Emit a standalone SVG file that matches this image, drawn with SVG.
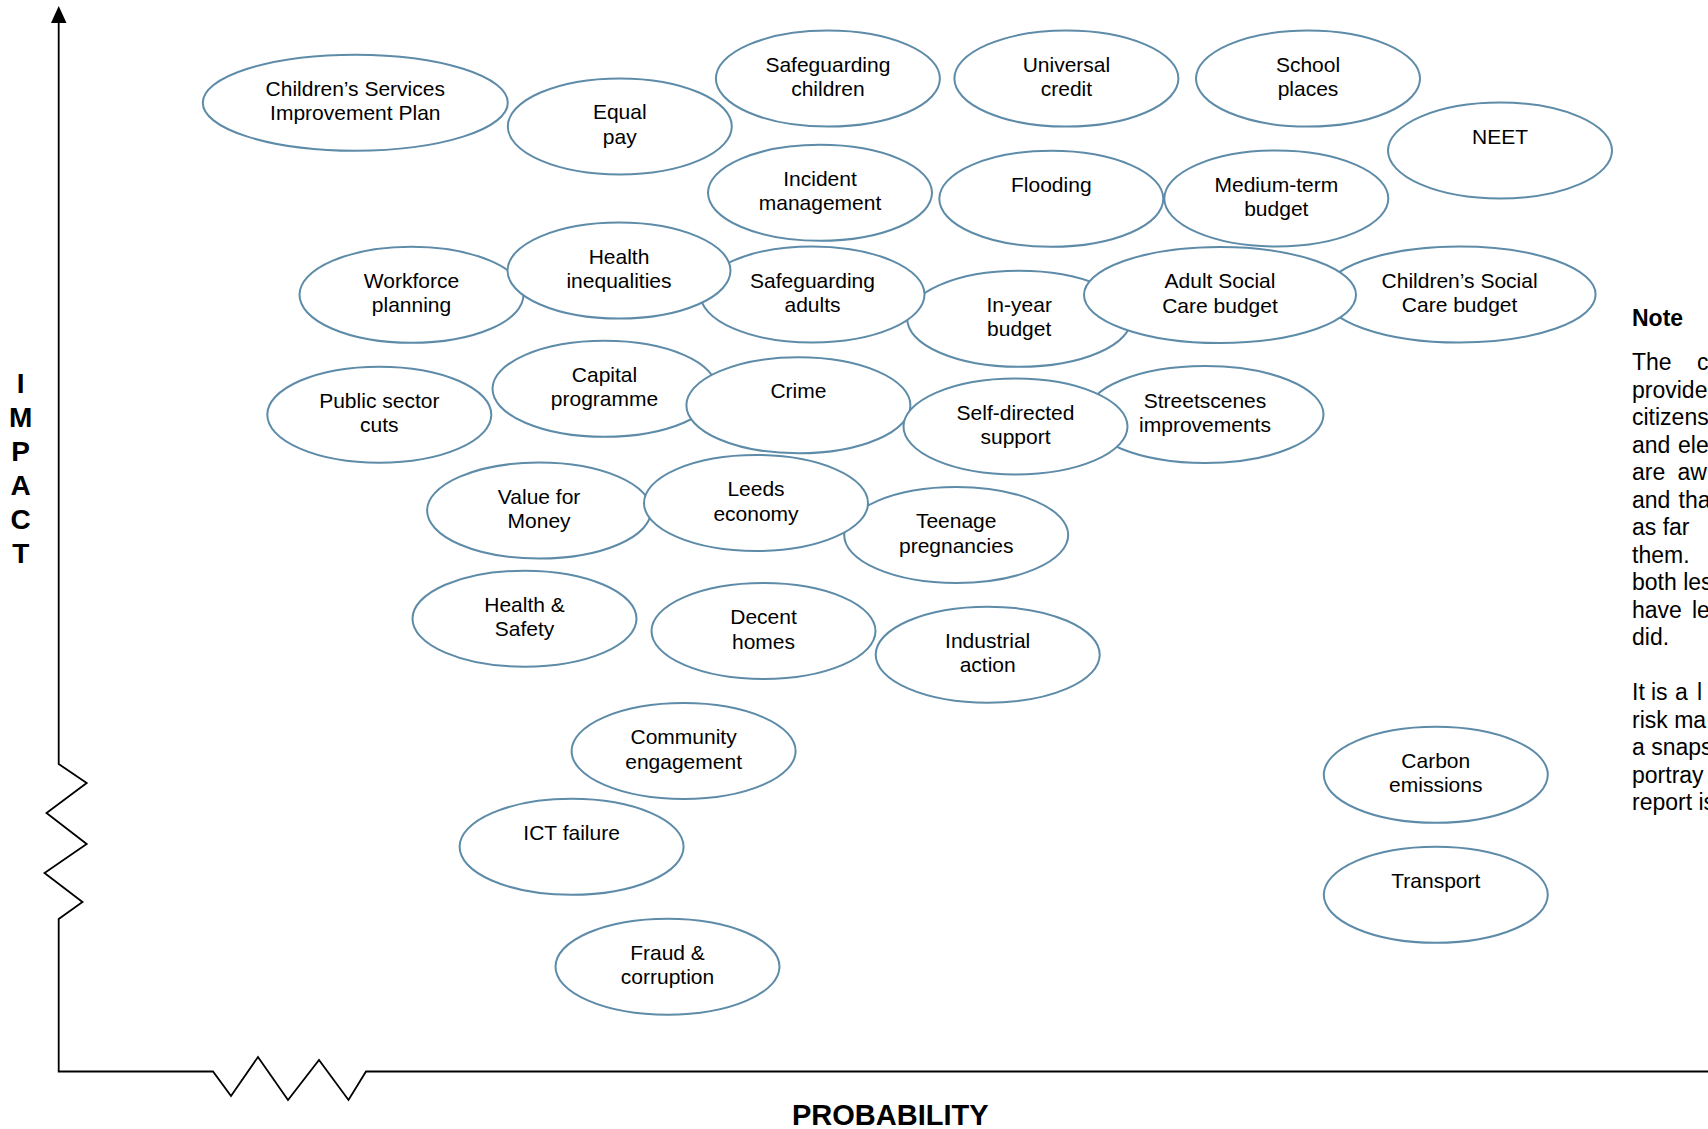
<svg xmlns="http://www.w3.org/2000/svg" width="1708" height="1129" viewBox="0 0 1708 1129">
<style>
.n ellipse{fill:#fff;stroke:#5d8ba8;stroke-width:2}
.n text,.t{font-family:"Liberation Sans",Arial,sans-serif;font-size:21px;fill:#000;text-anchor:middle}
.ax{fill:none;stroke:#000;stroke-width:1.8}
.lab{font-family:"Liberation Sans",Arial,sans-serif;font-weight:bold;fill:#000}
.note{font-family:"Liberation Sans",Arial,sans-serif;font-size:23px;fill:#000}
</style>
<rect width="1708" height="1129" fill="#fff"/>
<g id="axes">
<polyline class="ax" points="58.7,22 58.7,764 86.7,783 46.5,813 86.7,844 44.5,873 82.5,902 58.7,919 58.7,1071.5 213,1071.5 231,1096 258,1057 288,1100 319,1060 348.5,1100 366,1071.5 1708,1071.5"/>
<polygon points="58.7,6 51,23 66.5,23" fill="#000"/>
</g>
<g id="axis-labels">
<text class="lab" font-size="28" text-anchor="middle" x="20.7" y="393">I</text>
<text class="lab" font-size="28" text-anchor="middle" x="20.7" y="427">M</text>
<text class="lab" font-size="28" text-anchor="middle" x="20.7" y="461">P</text>
<text class="lab" font-size="28" text-anchor="middle" x="20.7" y="495">A</text>
<text class="lab" font-size="28" text-anchor="middle" x="20.7" y="529">C</text>
<text class="lab" font-size="28" text-anchor="middle" x="20.7" y="563">T</text>
<text class="lab" font-size="29" x="792" y="1125">PROBABILITY</text>
</g>
<g id="nodes" class="n">
<g id="csip"><ellipse cx="355.3" cy="102.7" rx="152.5" ry="48"/><text x="355.3" y="95.7">Children’s Services</text><text x="355.3" y="120.2">Improvement Plan</text></g>
<g id="equal-pay"><ellipse cx="619.8" cy="126.4" rx="112" ry="48"/><text x="619.8" y="119.4">Equal</text><text x="619.8" y="143.9">pay</text></g>
<g id="safeguarding-children"><ellipse cx="827.9" cy="78.6" rx="112" ry="48"/><text x="827.9" y="71.6">Safeguarding</text><text x="827.9" y="96.1">children</text></g>
<g id="universal-credit"><ellipse cx="1066.4" cy="78.6" rx="112" ry="48"/><text x="1066.4" y="71.6">Universal</text><text x="1066.4" y="96.1">credit</text></g>
<g id="school-places"><ellipse cx="1308" cy="78.6" rx="112" ry="48"/><text x="1308" y="71.6">School</text><text x="1308" y="96.1">places</text></g>
<g id="neet"><ellipse cx="1500" cy="150.5" rx="112" ry="48"/><text x="1500" y="143.5">NEET</text></g>
<g id="incident-management"><ellipse cx="820" cy="192.8" rx="112" ry="48"/><text x="820" y="185.8">Incident</text><text x="820" y="210.3">management</text></g>
<g id="flooding"><ellipse cx="1051.3" cy="198.8" rx="112" ry="48"/><text x="1051.3" y="191.8">Flooding</text></g>
<g id="medium-term-budget"><ellipse cx="1276.3" cy="198.5" rx="112" ry="48"/><text x="1276.3" y="191.5">Medium-term</text><text x="1276.3" y="216">budget</text></g>
<g id="childrens-social-care-budget"><ellipse cx="1459.6" cy="294.5" rx="136" ry="48"/><text x="1459.6" y="287.5">Children’s Social</text><text x="1459.6" y="312">Care budget</text></g>
<g id="in-year-budget"><ellipse cx="1019.2" cy="318.8" rx="112" ry="48"/><text x="1019.2" y="311.8">In-year</text><text x="1019.2" y="336.3">budget</text></g>
<g id="adult-social-care-budget"><ellipse cx="1220" cy="295" rx="136" ry="48"/><text x="1220" y="288">Adult Social</text><text x="1220" y="312.5">Care budget</text></g>
<g id="safeguarding-adults"><ellipse cx="812.5" cy="294.5" rx="112" ry="48"/><text x="812.5" y="287.5">Safeguarding</text><text x="812.5" y="312">adults</text></g>
<g id="workforce-planning"><ellipse cx="411.5" cy="294.8" rx="112" ry="48"/><text x="411.5" y="287.8">Workforce</text><text x="411.5" y="312.3">planning</text></g>
<g id="health-inequalities"><ellipse cx="619" cy="270.6" rx="111.5" ry="48"/><text x="619" y="263.6">Health</text><text x="619" y="288.1">inequalities</text></g>
<g id="public-sector-cuts"><ellipse cx="379.3" cy="414.7" rx="112" ry="48"/><text x="379.3" y="407.7">Public sector</text><text x="379.3" y="432.2">cuts</text></g>
<g id="capital-programme"><ellipse cx="604.5" cy="388.8" rx="112" ry="48"/><text x="604.5" y="381.8">Capital</text><text x="604.5" y="406.3">programme</text></g>
<g id="crime"><ellipse cx="798.4" cy="405.3" rx="112" ry="48"/><text x="798.4" y="398">Crime</text></g>
<g id="streetscenes-improvements"><ellipse cx="1205" cy="414.5" rx="118.5" ry="48.5"/><text x="1205" y="407.5">Streetscenes</text><text x="1205" y="432">improvements</text></g>
<g id="self-directed-support"><ellipse cx="1015.5" cy="426.5" rx="112" ry="48"/><text x="1015.5" y="419.5">Self-directed</text><text x="1015.5" y="444">support</text></g>
<g id="value-for-money"><ellipse cx="539.1" cy="510.6" rx="112" ry="48"/><text x="539.1" y="503.6">Value for</text><text x="539.1" y="528.1">Money</text></g>
<g id="teenage-pregnancies"><ellipse cx="956.2" cy="535" rx="112" ry="48"/><text x="956.2" y="528">Teenage</text><text x="956.2" y="552.5">pregnancies</text></g>
<g id="leeds-economy"><ellipse cx="756" cy="503" rx="112" ry="48"/><text x="756" y="496">Leeds</text><text x="756" y="520.5">economy</text></g>
<g id="health-safety"><ellipse cx="524.5" cy="618.7" rx="112" ry="48"/><text x="524.5" y="611.7">Health &amp;</text><text x="524.5" y="636.2">Safety</text></g>
<g id="decent-homes"><ellipse cx="763.5" cy="631" rx="112" ry="48"/><text x="763.5" y="624">Decent</text><text x="763.5" y="648.5">homes</text></g>
<g id="industrial-action"><ellipse cx="987.7" cy="654.7" rx="112" ry="48"/><text x="987.7" y="647.7">Industrial</text><text x="987.7" y="672.2">action</text></g>
<g id="community-engagement"><ellipse cx="683.6" cy="751" rx="112" ry="48"/><text x="683.6" y="744">Community</text><text x="683.6" y="768.5">engagement</text></g>
<g id="ict-failure"><ellipse cx="571.6" cy="846.8" rx="112" ry="48"/><text x="571.6" y="839.8">ICT failure</text></g>
<g id="fraud-corruption"><ellipse cx="667.5" cy="966.7" rx="112" ry="48"/><text x="667.5" y="959.7">Fraud &amp;</text><text x="667.5" y="984.2">corruption</text></g>
<g id="carbon-emissions"><ellipse cx="1435.8" cy="774.8" rx="112" ry="48"/><text x="1435.8" y="767.8">Carbon</text><text x="1435.8" y="792.3">emissions</text></g>
<g id="transport"><ellipse cx="1435.8" cy="894.8" rx="112" ry="48"/><text x="1435.8" y="887.8">Transport</text></g>
</g>
<g id="note">
<text class="note" font-weight="bold" x="1632" y="326">Note</text>
<text class="note" x="1632" y="370">The</text><text class="note" x="1697" y="370">c</text>
<text class="note" x="1632" y="397.5">provide</text>
<text class="note" x="1632" y="425">citizens</text>
<text class="note" x="1632" y="452.5">and</text><text class="note" x="1678" y="452.5">ele</text>
<text class="note" x="1632" y="480">are</text><text class="note" x="1677.5" y="480">aw</text>
<text class="note" x="1632" y="507.5">and</text><text class="note" x="1678.5" y="507.5">tha</text>
<text class="note" x="1632" y="535">as far</text>
<text class="note" x="1632" y="562.5">them.</text>
<text class="note" x="1632" y="590">both les</text>
<text class="note" x="1632" y="617.5">have</text><text class="note" x="1692" y="617.5">le</text>
<text class="note" x="1632" y="645">did.</text>
<text class="note" x="1632" y="700">It</text><text class="note" x="1651" y="700">is</text><text class="note" x="1675" y="700">a</text><text class="note" x="1697" y="700">l</text>
<text class="note" x="1632" y="727.5">risk ma</text>
<text class="note" x="1632" y="755">a snaps</text>
<text class="note" x="1632" y="782.5">portray</text>
<text class="note" x="1632" y="810">report is</text>
</g>
</svg>
